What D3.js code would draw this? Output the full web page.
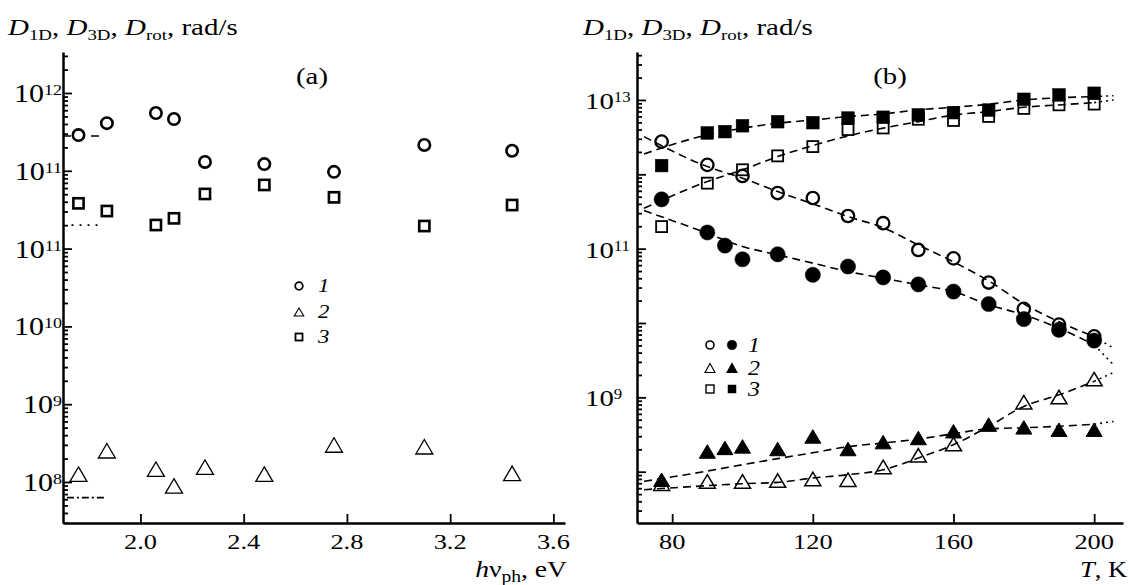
<!DOCTYPE html>
<html><head><meta charset="utf-8">
<script src="https://cdn.jsdelivr.net/npm/d3@7/dist/d3.min.js"></script>
<style>
html,body{margin:0;padding:0;background:#fff;}
svg{display:block;}
text{font-family:"Liberation Serif","Times New Roman",Times,serif;fill:#000;}
</style></head><body>
<svg id="chart" width="1129" height="585"></svg>
<script>
// ---------- Panel (a) data ----------
const photonEnergy = [1.76, 1.87, 2.06, 2.13, 2.25, 2.48, 2.75, 3.10, 3.44];
const aD1 = [2.88e12, 4.1e12, 5.53e12, 4.63e12, 1.30e12, 1.22e12, 9.7e11, 2.15e12, 1.81e12];
const aD2 = [1.26e8, 2.52e8, 1.46e8, 8.9e7, 1.55e8, 1.26e8, 2.99e8, 2.84e8, 1.29e8];
const aD3 = [3.82e11, 3.04e11, 2.01e11, 2.45e11, 5.04e11, 6.58e11, 4.56e11, 1.95e11, 3.63e11];
const aRef1X = [1.70, 1.845], aRef1 = 2.8e12;
const aRef3X = [1.733, 1.857], aRef3 = 2.0e11;
const aRef2X = [1.715, 1.865], aRef2 = 6.3e7;
const aXTicks = [2.0, 2.4, 2.8, 3.2, 3.6];
const aYTickVals = [1e8, 1e9, 1e10, 1e11, 1e12, 1e13];
const aYTickExp = ["8", "9", "10", "11", "11", "12"];

// ---------- Panel (b) data ----------
const tOC = [77, 90, 100, 110, 120, 130, 140, 150, 160, 170, 180, 190, 200];
const bOC = [2.75e12, 1.34e12, 9.5e11, 5.6e11, 4.8e11, 2.75e11, 2.2e11, 9.6e10, 7.4e10, 3.5e10, 1.55e10, 9.5e9, 6.6e9];
const tFC = [77, 90, 95, 100, 110, 120, 130, 140, 150, 160, 170, 180, 190, 200];
const bFC = [4.6e11, 1.65e11, 1.1e11, 7.2e10, 8.4e10, 4.45e10, 5.75e10, 4.1e10, 3.3e10, 2.65e10, 1.8e10, 1.13e10, 8.1e9, 5.8e9];
const tOT = [77, 90, 100, 110, 120, 130, 140, 150, 160, 180, 190, 200];
const bOT = [6.9e7, 7.4e7, 7.4e7, 7.6e7, 8.0e7, 7.8e7, 1.16e8, 1.66e8, 2.35e8, 8.6e8, 1.01e9, 1.76e9];
const tFT = [77, 90, 95, 100, 110, 120, 130, 140, 150, 160, 170, 180, 190, 200];
const bFT = [7.8e7, 1.87e8, 2.09e8, 2.19e8, 2.02e8, 2.98e8, 2.02e8, 2.5e8, 2.84e8, 3.5e8, 4.3e8, 3.95e8, 3.67e8, 3.67e8];
const tOS = [77, 90, 100, 110, 120, 130, 140, 150, 160, 170, 180, 190, 200];
const bOS = [1.98e11, 7.6e11, 1.15e12, 1.77e12, 2.36e12, 4.0e12, 4.2e12, 5.5e12, 5.3e12, 6.0e12, 7.7e12, 8.6e12, 8.8e12];
const tFS = [77, 90, 95, 100, 110, 120, 130, 140, 150, 160, 170, 180, 190, 200];
const bFS = [1.31e12, 3.6e12, 3.75e12, 4.5e12, 5.1e12, 4.95e12, 5.7e12, 5.85e12, 6.3e12, 6.75e12, 7.3e12, 1.02e13, 1.17e13, 1.23e13];
const fitT  = [72, 90, 100, 110, 120, 130, 140, 150, 160, 170, 180, 190, 200, 205.5];
const fitOC = [3.21e12, 1.27e12, 8.87e11, 5.85e11, 4.0e11, 2.70e11, 1.91e11, 1.12e11, 6.65e10, 3.69e10, 1.81e10, 1.04e10, 6.53e9, 4.6e9];
const fitFC = [3.25e11, 1.61e11, 1.07e11, 8.26e10, 6.38e10, 4.92e10, 4.01e10, 3.26e10, 2.65e10, 1.76e10, 1.29e10, 8.53e9, 5.09e9, 2.74e9];
const fitOS = [3.5e11, 7.98e11, 1.15e12, 1.73e12, 2.44e12, 3.28e12, 4.18e12, 5.11e12, 6.28e12, 6.97e12, 7.98e12, 8.57e12, 9.2e12, 1.0e13];
const fitFS = [1.88e12, 3.39e12, 4.17e12, 4.86e12, 5.38e12, 5.97e12, 6.49e12, 7.35e12, 7.98e12, 8.75e12, 1.0e13, 1.07e13, 1.11e13, 1.14e13];
const fitFT = [7.41e7, 1.02e8, 1.24e8, 1.50e8, 1.80e8, 2.17e8, 2.43e8, 2.75e8, 3.24e8, 3.78e8, 3.90e8, 4.09e8, 4.35e8, 4.74e8];
const fitOT = [5.73e7, 6.49e7, 6.90e7, 7.18e7, 8.22e7, 9.12e7, 1.06e8, 1.53e8, 2.31e8, 4.06e8, 7.55e8, 1.08e9, 1.64e9, 2.16e9];
const bXTicks = [80, 120, 160, 200];
const bYTickVals = [1e9, 1e11, 1e13];
const bYTickExp = ["9", "11", "13"];

// ---------- drawing ----------
const svg = d3.select('#chart');

const xA = d3.scaleLinear().domain([1.70, 3.645]).range([63, 565]);
const yA = d3.scaleLog().domain([Math.pow(10, 7.473), Math.pow(10, 13.527)]).range([523, 52]);
const xB = d3.scaleLinear().domain([70, 208.2]).range([637, 1123]);
const yB = d3.scaleLog().domain([Math.pow(10, 7.31), Math.pow(10, 13.645)]).range([523, 52]);

function logTicks(scale) {
  const [a, b] = scale.domain(); const out = [];
  for (let e = Math.floor(Math.log10(a)); e <= Math.ceil(Math.log10(b)); e++)
    for (let m = 1; m <= 9; m++) { const v = m * Math.pow(10, e); if (v >= a && v <= b) out.push(v); }
  return out;
}
const isMajor = d => Math.abs(Math.log10(d) - Math.round(Math.log10(d))) < 1e-9;

function rich(x, y, anchor, sx, size, parts) {
  const g = svg.append('g').attr('transform', `translate(${x},${y}) scale(${sx},1)`);
  const t = g.append('text').attr('text-anchor', anchor).attr('font-size', size);
  let shift = 0;
  parts.forEach(p => {
    const ts = t.append('tspan').text(p.t);
    const target = p.dy || 0;
    if (target - shift !== 0) ts.attr('dy', target - shift);
    shift = target;
    if (p.size) ts.attr('font-size', p.size);
    if (p.i) ts.attr('font-style', 'italic');
  });
  return t;
}

function yAxis(scale, x0, vals, exps, anchor, xoff, fs, sfs) {
  const ax = d3.axisLeft(scale).tickValues(logTicks(scale)).tickSize(-9).tickSizeOuter(0).tickFormat('');
  const G = svg.append('g').attr('transform', `translate(${x0},0)`).call(ax);
  G.select('.domain').attr('stroke', '#000').attr('stroke-width', 2.5);
  G.selectAll('.tick line').attr('stroke', '#000').attr('stroke-width', 1.8).attr('x2', d => isMajor(d) ? 9 : 5);
  vals.forEach((v, i) => {
    rich(x0 + xoff, scale(v) + 9, anchor, 1.2, fs, [{t: '10'}, {t: exps[i], dy: -7, size: sfs}]);
  });
}
function xAxis(scale, y0, vals, fmt) {
  const ax = d3.axisBottom(scale).tickValues(vals).tickSize(-9).tickSizeOuter(0).tickFormat('');
  const G = svg.append('g').attr('transform', `translate(0,${y0})`).call(ax);
  G.select('.domain').attr('stroke', '#000').attr('stroke-width', 2.5);
  G.selectAll('.tick line').attr('stroke', '#000').attr('stroke-width', 1.8);
  vals.forEach(v => rich(scale(v), 549, 'middle', 1.2, 22, [{t: fmt(v)}]));
}

const triPath = (w, h) => `M0,${-h / 2}L${w / 2},${h / 2}L${-w / 2},${h / 2}Z`;
function marks(xs, ys, xS, yS, type, opts) {
  const g = svg.append('g');
  const data = xs.map((x, i) => [x, ys[i]]);
  const sel = g.selectAll('x').data(data).enter();
  const fill = opts.fill || 'none';
  if (type === 'circle') {
    sel.append('circle').attr('cx', d => xS(d[0])).attr('cy', d => yS(d[1])).attr('r', opts.r)
      .attr('fill', fill).attr('stroke', '#000').attr('stroke-width', opts.sw);
  } else if (type === 'square') {
    sel.append('rect').attr('x', d => xS(d[0]) - opts.s / 2).attr('y', d => yS(d[1]) - opts.s / 2)
      .attr('width', opts.s).attr('height', opts.s)
      .attr('fill', fill).attr('stroke', '#000').attr('stroke-width', opts.sw);
  } else {
    sel.append('path').attr('d', triPath(opts.w, opts.h))
      .attr('transform', d => `translate(${xS(d[0])},${yS(d[1])})`)
      .attr('fill', fill).attr('stroke', '#000').attr('stroke-width', opts.sw).attr('stroke-linejoin', 'miter');
  }
}

// ===== Panel (a) =====
const refLine = d3.line().x(d => xA(d[0])).y(d => yA(d[1]));
[[aRef1X, aRef1, '8,6'], [aRef3X, aRef3, '2,6'], [aRef2X, aRef2, '7,3,2,3']].forEach(([xs, v, da]) => {
  svg.append('path').attr('d', refLine(xs.map(x => [x, v]))).attr('fill', 'none')
    .attr('stroke', '#000').attr('stroke-width', 1.7).attr('stroke-dasharray', da);
});
marks(photonEnergy, aD1, xA, yA, 'circle', {r: 5.7, sw: 2.6, fill: '#fff'});
marks(photonEnergy, aD3, xA, yA, 'square', {s: 10.2, sw: 2.6, fill: '#fff'});
marks(photonEnergy, aD2, xA, yA, 'tri', {w: 17, h: 14.5, sw: 1.3, fill: '#fff'});
yAxis(yA, 63, aYTickVals, aYTickExp, 'end', -1, 25, 15);
xAxis(xA, 523, aXTicks, d3.format('.1f'));

// titles and labels (a)
const titleParts = [{t: 'D', i: 1}, {t: '1D', dy: 5, size: 15}, {t: ', '}, {t: 'D', i: 1}, {t: '3D', dy: 5, size: 15}, {t: ', '},
  {t: 'D', i: 1}, {t: 'rot', dy: 5, size: 15}, {t: ', rad/s'}];
rich(8, 35, 'start', 1.26, 23, titleParts);
rich(312, 84, 'middle', 1.25, 23, [{t: '(a)'}]);
rich(567, 577, 'end', 1.15, 24, [{t: 'h', i: 1}, {t: 'ν'}, {t: 'ph', dy: 5, size: 17}, {t: ', eV'}]);

// legend (a)
const legA = [['circle', 286, '1'], ['tri', 312, '2'], ['square', 337, '3']];
legA.forEach(([type, y, lab]) => {
  if (type === 'circle') svg.append('circle').attr('cx', 299).attr('cy', y).attr('r', 3.8).attr('fill', 'none').attr('stroke', '#000').attr('stroke-width', 1.8);
  else if (type === 'square') svg.append('rect').attr('x', 295.5).attr('y', y - 3.5).attr('width', 7).attr('height', 7).attr('fill', 'none').attr('stroke', '#000').attr('stroke-width', 1.8);
  else svg.append('path').attr('d', triPath(9.5, 8)).attr('transform', `translate(299,${y})`).attr('fill', 'none').attr('stroke', '#000').attr('stroke-width', 1.1);
  rich(318, y + 6, 'start', 1.2, 19, [{t: lab, i: 1}]);
});

// ===== Panel (b) =====
const fitLine = d3.line().x(d => xB(d[0])).y(d => yB(d[1])).curve(d3.curveMonotoneX);
[fitOC, fitFC, fitOS, fitFS, fitFT, fitOT].forEach(vals => {
  const pts = fitT.map((t, i) => [t, vals[i]]);
  svg.append('path').attr('d', fitLine(pts.slice(0, -1))).attr('fill', 'none')
    .attr('stroke', '#000').attr('stroke-width', 1.6).attr('stroke-dasharray', '8,5');
  svg.append('path').attr('d', fitLine(pts.slice(-2))).attr('fill', 'none')
    .attr('stroke', '#000').attr('stroke-width', 1.6).attr('stroke-dasharray', '2,4');
});
// open markers
marks(tOS, bOS, xB, yB, 'square', {s: 11, sw: 1.8});
marks(tOC, bOC, xB, yB, 'circle', {r: 6.2, sw: 2.3});
marks(tOT, bOT, xB, yB, 'tri', {w: 16, h: 13.5, sw: 1.5});
// filled markers
marks(tFS, bFS, xB, yB, 'square', {s: 12.7, sw: 0.5, fill: '#000'});
marks(tFC, bFC, xB, yB, 'circle', {r: 7.6, sw: 0.5, fill: '#000'});
marks(tFT, bFT, xB, yB, 'tri', {w: 16, h: 13.5, sw: 1, fill: '#000'});

yAxis(yB, 637, bYTickVals, bYTickExp, 'start', -52, 24, 14);
xAxis(xB, 523, bXTicks, d3.format('d'));

rich(583, 35, 'start', 1.26, 23, titleParts);
rich(890, 84, 'middle', 1.25, 23, [{t: '(b)'}]);
rich(1127, 577, 'end', 1.15, 23, [{t: 'T', i: 1}, {t: ', K'}]);

// legend (b)
const legB = [['circle', 345, '1'], ['tri', 368, '2'], ['square', 389, '3']];
legB.forEach(([type, y, lab]) => {
  [[710, 'none'], [732, '#000']].forEach(([x, f]) => {
    if (type === 'circle') svg.append('circle').attr('cx', x).attr('cy', y).attr('r', f === 'none' ? 4 : 4.8).attr('fill', f).attr('stroke', '#000').attr('stroke-width', f === 'none' ? 1.6 : 0.5);
    else if (type === 'square') svg.append('rect').attr('x', x - 4).attr('y', y - 4).attr('width', 8).attr('height', 8).attr('fill', f).attr('stroke', '#000').attr('stroke-width', f === 'none' ? 1.4 : 0.5);
    else svg.append('path').attr('d', triPath(10, 9)).attr('transform', `translate(${x},${y})`).attr('fill', f).attr('stroke', '#000').attr('stroke-width', 1.1);
  });
  rich(748, y + 7, 'start', 1.2, 20, [{t: lab, i: 1}]);
});
</script>
</body></html>
